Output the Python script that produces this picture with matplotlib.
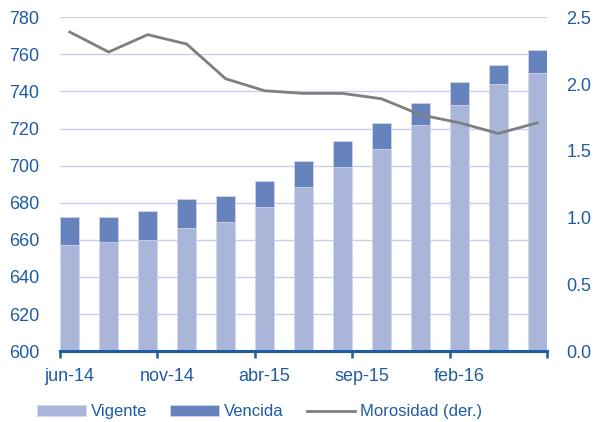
import numpy as np
import matplotlib
matplotlib.use("Agg")
import matplotlib.pyplot as plt

# bimonthly data, jun-14 .. jun-16
months = ["jun-14", "ago-14", "oct-14", "dic-14", "feb-15", "abr-15", "jun-15",
          "ago-15", "oct-15", "dic-15", "feb-16", "abr-16", "jun-16"]
vigente = [657, 659, 660, 666.5, 669.5, 677.5, 688.5, 699.5, 709, 722, 732.5, 744, 750]
total = [672.5, 672.5, 675.5, 682, 683.5, 691.5, 702.5, 713.5, 723, 734, 745, 754.5, 762.5]
morosidad = [2.39, 2.24, 2.37, 2.30, 2.04, 1.95, 1.93, 1.93, 1.89, 1.77, 1.71, 1.63, 1.71]
tick_labels = ["jun-14", "nov-14", "abr-15", "sep-15", "feb-16"]

vencida = [t - v for t, v in zip(total, vigente)]

plt.rcParams['font.family'] = ['Liberation Sans', 'DejaVu Sans']
text_col = '#1f5ca3'
c_vig = '#a9b5d9'
c_ven = '#6783bd'
c_line = '#7f7f7f'

fig = plt.figure(figsize=(5.94, 4.22), dpi=100)
ax = fig.add_axes([0.101, 0.168, 0.82, 0.791])

# x axis in months, one bar every two months, centred in its month
x = np.arange(len(months)) * 2 + 0.5
ax.bar(x, vigente, width=0.98, color=c_vig, edgecolor='#d3d9ee', linewidth=0.5,
       label='Vigente', zorder=2)
ax.bar(x, vencida, width=0.98, bottom=vigente, color=c_ven, edgecolor='#d3d9ee',
       linewidth=0.5, label='Vencida', zorder=2)

ax.set_ylim(600, 780)
ax.set_yticks(np.arange(600, 781, 20))
ax.set_xlim(0, 25)
ax.set_xticks(np.arange(0, 26, 5))
ax.set_xticklabels([])
ax.set_xticks(np.arange(0, 25, 5) + 0.5, minor=True)
ax.set_xticklabels(tick_labels, minor=True)

ax.grid(axis='y', color='#c9cfe9', linewidth=1.0, zorder=0)
ax.set_axisbelow(True)
for s in ['left', 'right', 'top']:
    ax.spines[s].set_visible(False)
ax.spines['bottom'].set_color(text_col)
ax.spines['bottom'].set_linewidth(2.2)
ax.spines['bottom'].set_zorder(5)
ax.tick_params(axis='x', which='major', direction='out', length=5, width=1.8,
               color=text_col)
ax.tick_params(axis='x', which='minor', length=0, pad=12, labelsize=13,
               labelcolor=text_col)
ax.tick_params(axis='y', length=0, pad=15, labelsize=13, labelcolor=text_col)

ax2 = ax.twinx()
ax2.plot(x, morosidad, color=c_line, linewidth=2, label='Morosidad (der.)')
ax2.set_ylim(0, 2.5)
ax2.set_yticks(np.arange(0, 2.51, 0.5))
ax2.set_yticklabels(["%.1f" % v for v in np.arange(0, 2.51, 0.5)])
ax2.tick_params(axis='y', length=0, pad=14, labelsize=13, labelcolor=text_col)
for s in ['left', 'right', 'top', 'bottom']:
    ax2.spines[s].set_visible(False)

h1, l1 = ax.get_legend_handles_labels()
h2, l2 = ax2.get_legend_handles_labels()
leg = fig.legend(h1 + h2, l1 + l2, loc='center', bbox_to_anchor=(0.437, 0.024),
                 ncol=3, frameon=False, fontsize=12, handlelength=2.9,
                 handletextpad=0.3, columnspacing=1.4, handleheight=0.7)
for t in leg.get_texts():
    t.set_color(text_col)

fig.savefig("out.png", dpi=100)
